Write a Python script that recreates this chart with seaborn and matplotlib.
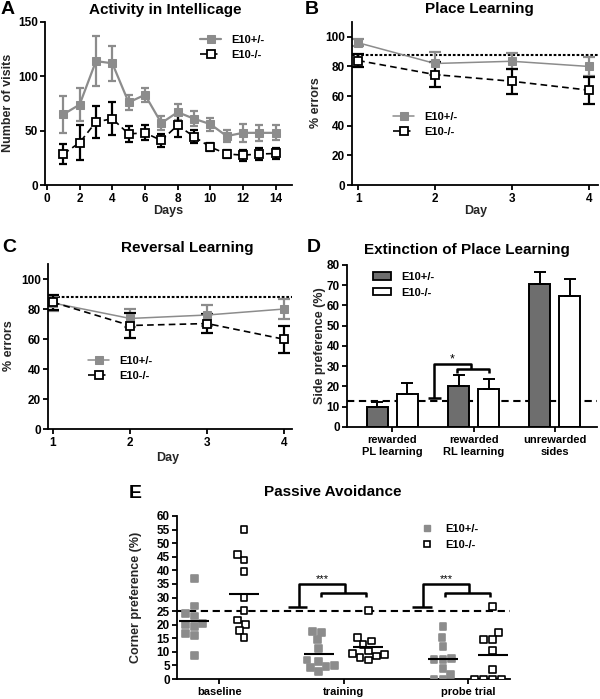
import pandas as pd
import matplotlib.pyplot as plt
import matplotlib.patches as mpatches
from matplotlib.lines import Line2D
import seaborn as sns

# -----------------------------
# data
# -----------------------------
days = list(range(1, 15))
visits_het = [65, 74, 114, 112, 76, 83, 57, 67, 61, 56, 45, 48, 48, 48]
visits_het_err = [17, 15, 23, 16, 7, 6.5, 6.5, 7.5, 7, 6, 5.5, 8, 7.5, 7]
visits_ko = [28.5, 39, 58, 61, 47, 48, 41, 55, 44.5, 35, 28.5, 27.5, 28.5, 29]
visits_ko_err = [9.5, 16, 15, 15, 7, 7, 6, 11, 6, 4, 4, 5, 5.5, 5.5]

learn_days = [1, 2, 3, 4]
place_het = [96, 82, 83.5, 80]
place_het_err = [2.5, 7.5, 5.5, 6.5]
place_ko = [84, 74.5, 70, 64]
place_ko_err = [4.5, 8.5, 8.5, 9]

rev_het = [84, 73.7, 76, 80]
rev_het_err = [5, 6, 7, 6.5]
rev_ko = [84.5, 69, 70.3, 59.8]
rev_ko_err = [5, 8.5, 6.5, 8.8]
chance_errors = 88

ext_groups = ['rewarded\nPL learning', 'rewarded\nRL learning', 'unrewarded\nsides']
ext_het = [9.7, 20, 70.4]
ext_het_err = [2.5, 5.5, 6]
ext_ko = [16.3, 18.9, 64.9]
ext_ko_err = [5.4, 4.9, 8.2]
ext_chance = 12.6

phases = ['baseline', 'training', 'probe trial']
pa_het_base = [37.1, 26.9, 23.2, 24.0, 20.2, 20.5, 19.3, 16.7, 15.9, 8.7]
pa_ko_base = [55.1, 45.9, 43.8, 39.5, 30.1, 25.1, 21.7, 20.1, 17.8, 15.2]
pa_het_train = [17.4, 17.2, 14.4, 11.3, 7.0, 6.5, 5.0, 4.5, 4.2, 2.7]
pa_ko_train = [25.1, 15.2, 14.0, 12.8, 10.3, 9.5, 9.1, 8.5, 8.0, 7.0]
pa_het_probe = [19.3, 15.2, 12.1, 7.6, 7.2, 7.2, 3.9, 1.8, 0, 0]
pa_ko_probe = [26.6, 17.0, 14.6, 14.6, 10.4, 3.6, 0, 0, 0, 0]
pa_chance = 25.1

GENO = ['E10+/-', 'E10-/-']
GRAY = '#8c8c8c'
BAR_GRAY = '#6e6e6e'
W, H = 600, 699

# -----------------------------
# style
# -----------------------------
sns.set_style('ticks')
plt.rcParams['font.family'] = ['Liberation Sans', 'DejaVu Sans']
plt.rcParams.update({
    'font.weight': 'bold', 'axes.labelweight': 'bold', 'axes.titleweight': 'bold',
    'axes.edgecolor': 'black', 'axes.linewidth': 1.3, 'text.color': 'black',
    'xtick.color': 'black', 'ytick.color': 'black',
    'xtick.major.width': 1.3, 'ytick.major.width': 1.3,
    'xtick.major.size': 3.6, 'ytick.major.size': 3.6,
    'xtick.labelsize': 8.5, 'ytick.labelsize': 8.5,
    'xtick.major.pad': 2.5, 'ytick.major.pad': 1.5,
})

fig = plt.figure(figsize=(W / 100, H / 100), dpi=100)


def box(l, t, r, b):
    return [l / W, 1 - b / H, (r - l) / W, (b - t) / H]


def ftext(x, y, s, size, **kw):
    fig.text(x / W, 1 - y / H, s, ha='center', va='center', fontsize=size,
             fontweight='bold', **kw)


def labels(ax, ylabel, ypos, xlabel=None, xpos=None):
    ax.set_ylabel(ylabel, fontsize=9, va='center')
    ax.yaxis.set_label_coords(ypos[0] / W, 1 - ypos[1] / H, transform=fig.transFigure)
    if xlabel:
        ax.set_xlabel(xlabel, fontsize=9, va='center')
        ax.xaxis.set_label_coords(xpos[0] / W, 1 - xpos[1] / H, transform=fig.transFigure)
    else:
        ax.set_xlabel('')


def curve_panel(ax, x, het, het_err, ko, ko_err, cap, lw_het):
    ax.errorbar(x, het, yerr=het_err, fmt='none', ecolor=GRAY, elinewidth=1.6,
                capsize=cap, capthick=1.6, zorder=2)
    ax.errorbar(x, ko, yerr=ko_err, fmt='none', ecolor='black', elinewidth=1.6,
                capsize=cap, capthick=1.6, zorder=2.5)
    sns.lineplot(x=x, y=het, ax=ax, color=GRAY, linewidth=lw_het, marker='s',
                 markersize=5.5, markeredgecolor=GRAY, errorbar=None,
                 label=GENO[0], zorder=3)
    sns.lineplot(x=x, y=ko, ax=ax, color='black', linewidth=1.2,
                 linestyle=(0, (4, 2.5)), marker='s', markersize=5.5,
                 markerfacecolor='white', markeredgecolor='black',
                 markeredgewidth=1.3, errorbar=None, label=GENO[1], zorder=4)


def curve_legend(ax, x, y):
    ax.legend(loc='upper left', bbox_to_anchor=(x / W, 1 - y / H),
              bbox_transform=fig.transFigure, frameon=False, fontsize=8,
              handlelength=1.9, handletextpad=0.9, labelspacing=0.45,
              borderpad=0, borderaxespad=0)


# -----------------------------
# A: activity
# -----------------------------
axA = fig.add_axes(box(45, 22, 292, 185))
curve_panel(axA, days, visits_het, visits_het_err, visits_ko, visits_ko_err, 2.6, 1.6)
axA.set_xlim(-0.12, 15.0)
axA.set_ylim(0, 150)
axA.set_xticks(range(0, 15, 2))
axA.set_yticks([0, 50, 100, 150])
curve_legend(axA, 200, 35)
labels(axA, 'Number of visits', (8, 103), 'Days', (168, 211))

# -----------------------------
# B: place learning
# -----------------------------
axB = fig.add_axes(box(352, 22, 598, 185))
axB.axhline(chance_errors, color='black', lw=1.5, ls=(0, (1.3, 0.9)), zorder=1)
curve_panel(axB, learn_days, place_het, place_het_err, place_ko, place_ko_err, 4.2, 1.1)
axB.set_xlim(0.92, 4.12)
axB.set_ylim(0, 110)
axB.set_xticks(learn_days)
axB.set_yticks(range(0, 101, 20))
curve_legend(axB, 393, 112)
labels(axB, '% errors', (316, 103), 'Day', (476, 211))

# -----------------------------
# C: reversal learning
# -----------------------------
axC = fig.add_axes(box(48, 264, 292, 429))
axC.axhline(chance_errors, color='black', lw=1.5, ls=(0, (1.3, 0.9)), zorder=1)
curve_panel(axC, learn_days, rev_het, rev_het_err, rev_ko, rev_ko_err, 4.2, 1.1)
axC.set_xlim(0.935, 4.1)
axC.set_ylim(0, 110)
axC.set_xticks(learn_days)
axC.set_yticks(range(0, 101, 20))
curve_legend(axC, 88, 356)
labels(axC, '% errors', (9, 346), 'Day', (168, 458))

# -----------------------------
# D: extinction of place learning
# -----------------------------
axD = fig.add_axes(box(347, 265, 597, 427))
ext_df = pd.DataFrame({'group': ext_groups * 2,
                       'geno': [GENO[0]] * 3 + [GENO[1]] * 3,
                       'pref': ext_het + ext_ko})
axD.axhline(ext_chance, color='black', lw=1.5, ls=(0, (3.5, 2.2)), zorder=1)
sns.barplot(data=ext_df, x='group', y='pref', hue='geno', hue_order=GENO,
            palette={GENO[0]: BAR_GRAY, GENO[1]: 'white'}, saturation=1,
            edgecolor='black', linewidth=1.4, width=0.74, gap=0.3,
            errorbar=None, legend=False, ax=axD, zorder=2)
for cont, errs in zip(list(axD.containers), [ext_het_err, ext_ko_err]):
    xs = [b.get_x() + b.get_width() / 2 for b in cont]
    tops = [b.get_height() for b in cont]
    axD.errorbar(xs, tops, yerr=[[0] * len(errs), errs], fmt='none', ecolor='black',
                 elinewidth=1.4, capsize=4.2, capthick=1.4, zorder=3)
bk = dict(color='black', lw=1.8, solid_capstyle='butt', zorder=4)
axD.plot([0.44, 0.60], [14.3, 14.3], **bk)
axD.plot([0.515, 0.515, 0.97, 0.97], [14.3, 31.2, 31.2, 28.7], **bk)
axD.plot([0.80, 0.80, 1.19, 1.19], [26.6, 28.7, 28.7, 26.6], **bk)
axD.text(0.74, 33.5, '*', ha='center', va='center', fontsize=9, fontweight='normal')
axD.set_xlim(-0.56, 2.52)
axD.set_ylim(0, 80)
axD.set_yticks(range(0, 81, 10))
axD.tick_params(axis='x', labelsize=8)
axD.legend(handles=[mpatches.Patch(facecolor=BAR_GRAY, edgecolor='black', lw=1.3, label=GENO[0]),
                    mpatches.Patch(facecolor='white', edgecolor='black', lw=1.3, label=GENO[1])],
           loc='upper left', bbox_to_anchor=(373 / W, 1 - 272 / H),
           bbox_transform=fig.transFigure, frameon=False, fontsize=8,
           handlelength=1.6, handleheight=0.65, handletextpad=0.9,
           labelspacing=0.5, borderpad=0, borderaxespad=0)
labels(axD, 'Side preference (%)', (320, 346))

# -----------------------------
# E: passive avoidance
# -----------------------------
axE = fig.add_axes(box(177, 516, 510, 679))
rows = []
for phase, het, ko in zip(phases, [pa_het_base, pa_het_train, pa_het_probe],
                          [pa_ko_base, pa_ko_train, pa_ko_probe]):
    rows += [(phase, GENO[0], v) for v in het]
    rows += [(phase, GENO[1], v) for v in ko]
pa_df = pd.DataFrame(rows, columns=['phase', 'geno', 'pref'])

axE.axhline(pa_chance, color='black', lw=1.5, ls=(0, (3.5, 2.2)), zorder=1)
sns.swarmplot(data=pa_df, x='phase', y='pref', hue='geno', hue_order=GENO,
              order=phases, dodge=True, marker='s', size=4.9,
              palette={GENO[0]: GRAY, GENO[1]: 'white'},
              edgecolor='black', linewidth=1.2, legend=False, ax=axE, zorder=3)
for coll in axE.collections:
    fc = coll.get_facecolor()
    if len(fc) and fc[0][0] < 0.9:
        coll.set_edgecolor(fc)

means = pa_df.groupby(['phase', 'geno'])['pref'].mean()
for i, phase in enumerate(phases):
    for off, geno in zip([-0.2, 0.2], GENO):
        m = means[(phase, geno)]
        axE.hlines(m, i + off - 0.12, i + off + 0.12, color='black', lw=1.5, zorder=4)

for i in (1, 2):
    axE.plot([i - 0.45, i - 0.29], [26.6, 26.6], **bk)
    axE.plot([i - 0.36, i - 0.36, i + 0.01, i + 0.01], [26.6, 35, 35, 31.8], **bk)
    axE.plot([i - 0.18, i - 0.18, i + 0.18, i + 0.18], [30.1, 31.8, 31.8, 30.1], **bk)
    axE.text(i - 0.17, 36.8, '***', ha='center', va='center', fontsize=8, fontweight='normal')

axE.set_xlim(-0.34, 2.34)
axE.set_ylim(0, 60)
axE.set_yticks(range(0, 61, 5))
axE.tick_params(axis='x', labelsize=8)
axE.legend(handles=[Line2D([], [], marker='s', ls='none', color=GRAY, markersize=5, label=GENO[0]),
                    Line2D([], [], marker='s', ls='none', markerfacecolor='white',
                           markeredgecolor='black', markeredgewidth=1.2, markersize=5, label=GENO[1])],
           loc='upper left', bbox_to_anchor=(421 / W, 1 - 524 / H),
           bbox_transform=fig.transFigure, frameon=False, fontsize=8,
           handlelength=1.0, handletextpad=1.2, labelspacing=0.5,
           borderpad=0, borderaxespad=0)
labels(axE, 'Corner preference (%)', (136, 597))

for ax in (axA, axB, axC, axD, axE):
    sns.despine(ax=ax)

# titles and panel letters
ftext(165, 10, 'Activity in Intellicage', 11)
ftext(479, 9, 'Place Learning', 11)
ftext(187, 248, 'Reversal Learning', 11)
ftext(467, 250, 'Extinction of Place Learning', 11)
ftext(333, 492, 'Passive Avoidance', 11)
for letter, x, y in [('A', 8, 10), ('B', 312, 10), ('C', 9, 247), ('D', 314, 247), ('E', 135, 493)]:
    ftext(x, y, letter, 14)

fig.savefig('out.png', dpi=100)
